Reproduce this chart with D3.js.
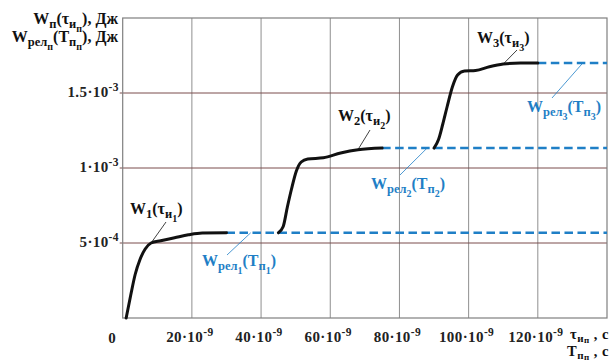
<!DOCTYPE html>
<html>
<head>
<meta charset="utf-8">
<script src="https://cdn.jsdelivr.net/npm/d3@7"></script>
<style>
  body { margin: 0; background: #fff; }
  svg { display: block; }
  text { font-family: "Liberation Serif", "Times New Roman", serif; font-weight: bold; }
</style>
</head>
<body>
<svg id="chart" width="611" height="363"></svg>
<script>
// energy curves W(tau), [time s, energy J]
const w1 = [[1e-9, 0], [2.3e-9, 0.15e-3], [3.6e-9, 0.29e-3], [5e-9, 0.39e-3], [6.5e-9, 0.46e-3], [8.2e-9, 0.5e-3],
  [11e-9, 0.515e-3], [15e-9, 0.535e-3], [19e-9, 0.555e-3], [23e-9, 0.567e-3], [30e-9, 0.568e-3]];
const w2 = [[45e-9, 0.568e-3], [46.4e-9, 0.61e-3], [47.6e-9, 0.74e-3], [48.8e-9, 0.86e-3], [50.2e-9, 0.98e-3],
  [51.6e-9, 1.04e-3], [53.5e-9, 1.06e-3], [58e-9, 1.068e-3], [63e-9, 1.1e-3], [68e-9, 1.122e-3], [75e-9, 1.133e-3]];
const w3 = [[90e-9, 1.133e-3], [91.3e-9, 1.19e-3], [92.5e-9, 1.29e-3], [93.8e-9, 1.41e-3], [95.3e-9, 1.54e-3],
  [96.8e-9, 1.62e-3], [98.8e-9, 1.647e-3], [102e-9, 1.65e-3], [106e-9, 1.675e-3], [110e-9, 1.693e-3],
  [115e-9, 1.7e-3], [120e-9, 1.7e-3]];
const series = [w1, w2, w3];
const relEnd = 140e-9;

const xTicks = [20e-9, 40e-9, 60e-9, 80e-9, 100e-9, 120e-9];
const xTickMant = ['20', '40', '60', '80', '100', '120'];
const xTickExp = '-9';
const yTicks = [5e-4, 1e-3, 1.5e-3];
const yTickMant = ['5', '1', '1.5'];
const yTickExp = ['-4', '-3', '-3'];

const svg = d3.select('#chart');
const x = d3.scaleLinear().domain([0, 140e-9]).range([122.7, 607]);
const y = d3.scaleLinear().domain([0, 2e-3]).range([318, 18]);

const blue = '#1f7fc6';

// grid
const grid = svg.append('g');
grid.selectAll('line.v').data(xTicks).enter().append('line')
  .attr('x1', d => x(d)).attr('x2', d => x(d)).attr('y1', y(0)).attr('y2', y(2e-3))
  .attr('stroke', '#8f8f8f').attr('stroke-width', 1);
grid.selectAll('line.h').data(yTicks).enter().append('line')
  .attr('x1', x(0) - 3).attr('x2', x(140e-9)).attr('y1', d => y(d)).attr('y2', d => y(d))
  .attr('stroke', '#7a4c4c').attr('stroke-width', 1);
grid.append('rect')
  .attr('x', x(0)).attr('y', y(2e-3)).attr('width', x(140e-9) - x(0)).attr('height', y(0) - y(2e-3))
  .attr('fill', 'none').attr('stroke', '#7f7f7f').attr('stroke-width', 1.2);

// relaxation dashed levels
series.forEach(s => {
  const last = s[s.length - 1];
  svg.append('line')
    .attr('x1', x(last[0])).attr('x2', x(relEnd)).attr('y1', y(last[1])).attr('y2', y(last[1]))
    .attr('stroke', blue).attr('stroke-width', 2.6).attr('stroke-dasharray', '8.5,4.5');
});

const line = d3.line().x(d => x(d[0])).y(d => y(d[1])).curve(d3.curveMonotoneX);
series.forEach(s => {
  svg.append('path').attr('d', line(s)).attr('fill', 'none')
    .attr('stroke', '#111').attr('stroke-width', 3).attr('stroke-linecap', 'round');
});

// text with sub levels: parts [text, level]
const bigStyle = { sizes: [16, 12.5, 10], shifts: [0, 4, 7.5] };
const smallStyle = { sizes: [14.5, 11, 9], shifts: [0, 2.5, 4] };
function richText(g, px, py, parts, anchor, color, st) {
  st = st || bigStyle;
  const t = g.append('text').attr('x', px).attr('y', py).attr('text-anchor', anchor || 'start')
    .attr('fill', color || '#111');
  let cur = 0;
  parts.forEach(([s, lvl]) => {
    t.append('tspan').attr('dy', st.shifts[lvl] - st.shifts[cur]).attr('font-size', st.sizes[lvl]).text(s);
    cur = lvl;
  });
  return t;
}
function powText(g, px, py, mant, exp, anchor) {
  const t = g.append('text').attr('x', px).attr('y', py).attr('text-anchor', anchor)
    .attr('font-size', 15).attr('letter-spacing', 0.4).attr('fill', '#222');
  t.append('tspan').text(mant + '\u00b710');
  t.append('tspan').attr('dy', -6).attr('font-size', 11.5).text(exp);
  return t;
}

// y tick labels
yTicks.forEach((v, i) => powText(svg, 119, y(v) + 4, yTickMant[i], yTickExp[i], 'end'));
// x tick labels
xTicks.forEach((v, i) => powText(svg, x(v) - 2, 342, xTickMant[i], xTickExp, 'middle'));
svg.append('text').attr('x', 112).attr('y', 343).attr('text-anchor', 'middle')
  .attr('font-size', 15).attr('fill', '#222').text('0');

// axis titles
richText(svg, 118, 24, [['W', 0], ['п', 1], ['(τ', 0], ['и', 1], ['п', 2], ['), Дж', 0]], 'end');
richText(svg, 118, 42, [['W', 0], ['рел', 1], ['п', 2], ['(T', 0], ['п', 1], ['п', 2], ['), Дж', 0]], 'end');
richText(svg, 609, 339, [['τ', 0], ['и', 1], ['п', 2], ['\u00a0, с', 0]], 'end', '#111', smallStyle)
  .attr('letter-spacing', 0.5);
richText(svg, 609, 356, [['T', 0], ['п', 1], ['п', 2], ['\u00a0, с', 0]], 'end', '#111', smallStyle)
  .attr('letter-spacing', 0.5);

// curve labels
const curveLabels = [
  { n: '1', tx: 130, ty: 214, from: [166, 222], to: w1[5] },
  { n: '2', tx: 338, ty: 121, from: [370, 130], to: w2[9] },
  { n: '3', tx: 477, ty: 43, from: [517, 50], to: w3[9] }
];
curveLabels.forEach(c => {
  richText(svg, c.tx, c.ty, [['W', 0], [c.n, 1], ['(τ', 0], ['и', 1], [c.n, 2], [')', 0]], 'start');
  svg.append('line').attr('x1', c.from[0]).attr('y1', c.from[1])
    .attr('x2', x(c.to[0])).attr('y2', y(c.to[1])).attr('stroke', '#111').attr('stroke-width', 0.8);
});

const relLabels = [
  { n: '1', tx: 202, ty: 266, from: [227, 255], at: 37e-9 },
  { n: '2', tx: 371, ty: 189, from: [400, 175], at: 88e-9 },
  { n: '3', tx: 527, ty: 112, from: [552, 98], at: 133e-9 }
];
relLabels.forEach((c, i) => {
  const lvl = series[i][series[i].length - 1][1];
  richText(svg, c.tx, c.ty, [['W', 0], ['рел', 1], [c.n, 2], ['(T', 0], ['п', 1], [c.n, 2], [')', 0]], 'start', blue);
  svg.append('line').attr('x1', c.from[0]).attr('y1', c.from[1])
    .attr('x2', x(c.at)).attr('y2', y(lvl)).attr('stroke', blue).attr('stroke-width', 0.8);
});
</script>
</body>
</html>
